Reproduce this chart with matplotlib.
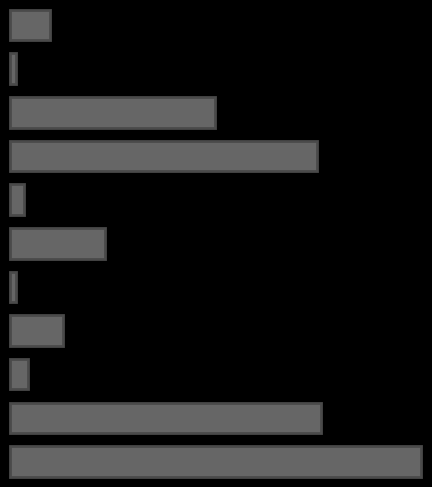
import matplotlib
matplotlib.use('Agg')
import matplotlib.pyplot as plt

# valores (sin etiquetas visibles)
categorias = list(range(11))
valores = [40, 6, 205, 307, 14, 95, 6, 53, 18, 311, 411]

fig = plt.figure(figsize=(4.32, 4.87), dpi=100, facecolor='black')
ax = fig.add_axes([0, 0, 1, 1])
ax.set_facecolor('black')

ax.barh(categorias, valores, height=0.7, left=0,
        color='#666666', edgecolor='#4a4a4a', linewidth=2)

ax.set_xlim(-10, 422)
ax.set_ylim(10.584, -0.573)
ax.axis('off')

plt.savefig('out.png', dpi=100, facecolor='black')
plt.close()
